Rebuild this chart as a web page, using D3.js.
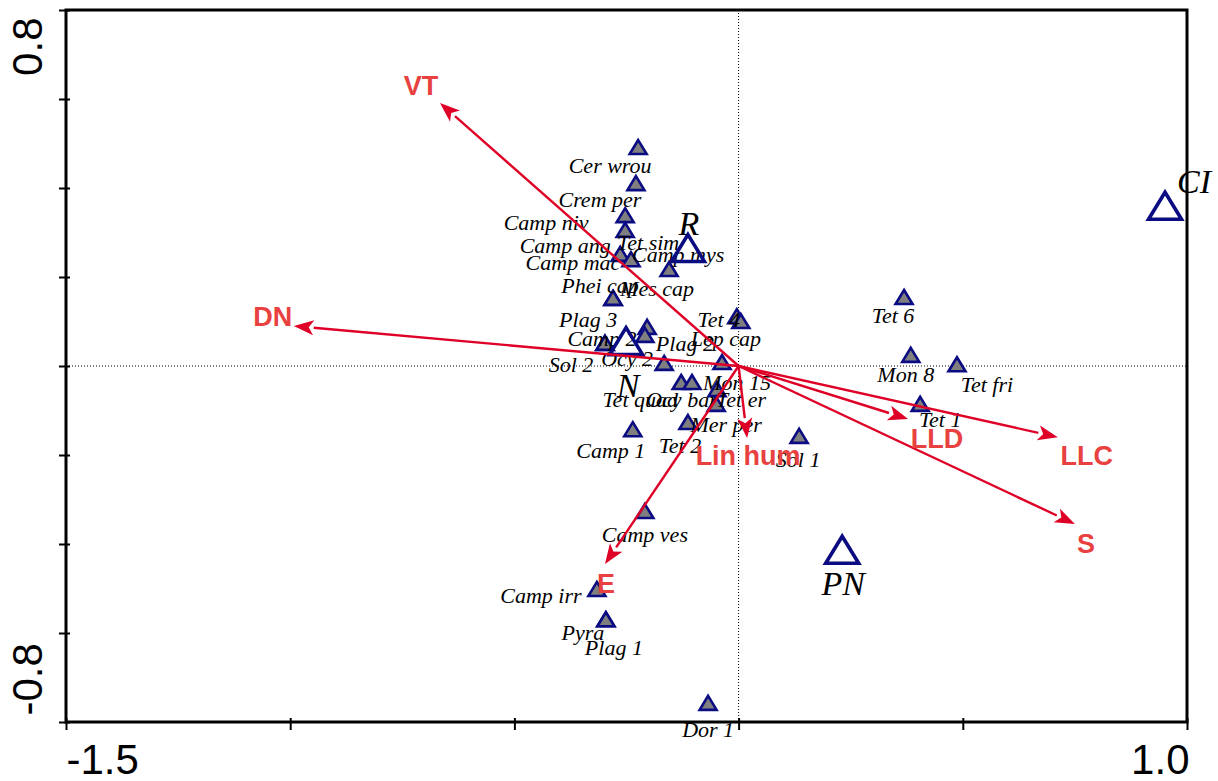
<!DOCTYPE html>
<html>
<head>
<meta charset="utf-8">
<script src="https://cdn.jsdelivr.net/npm/d3@7"></script>
<style>
  html, body { margin: 0; padding: 0; background: #fff; }
  svg { display: block; }
</style>
</head>
<body>
<svg id="chart" width="1218" height="781"></svg>
<script>
// Ordination biplot: species scores, class centroids and environmental vectors

// species scores (axis 1, axis 2)
const speciesNames = ["Cer wrou","Crem per","Camp niv","Tet sim","Camp ang","Camp mac","Camp mys",
  "Phei cap","Mes cap","Plag 3","Plag 2","Camp 2","Sol 2","Ocy 2","Mon 15","Tet 4","Lep cap",
  "Tet quad","Ocy bar","Tet er","Mer per","Tet 2","Camp 1","Sol 1","Tet 6","Mon 8","Tet fri",
  "Tet 1","Camp ves","Camp irr","Pyra","Plag 1","Dor 1"];
const speciesAx1 = [-0.224,-0.229,-0.253,-0.253,-0.264,-0.240,-0.155,
  -0.280,-0.280,-0.204,-0.209,-0.298,-0.298,-0.166,-0.037,-0.004,0.005,
  -0.128,-0.104,-0.048,-0.050,-0.113,-0.236,0.135,0.369,0.384,0.487,
  0.405,-0.209,-0.316,-0.296,-0.296,-0.068];
const speciesAx2 = [0.492,0.411,0.339,0.306,0.252,0.240,0.218,
  0.153,0.153,0.088,0.070,0.052,0.052,0.007,0.009,0.112,0.101,
  -0.036,-0.036,-0.052,-0.085,-0.126,-0.142,-0.157,0.155,0.025,0.004,
  -0.085,-0.326,-0.501,-0.569,-0.569,-0.757];

// nominal class centroids
const classNames = ["R","N","PN","CI"];
const classAx1 = [-0.113,-0.251,0.231,0.951];
const classAx2 = [0.265,0.056,-0.413,0.360];

// quantitative environmental variables (arrow tips)
const envNames = ["VT","DN","E","Lin hum","LLD","LLC","S"];
const envAx1 = [-0.666,-0.992,-0.298,0.019,0.378,0.712,0.750];
const envAx2 = [0.591,0.090,-0.445,-0.162,-0.119,-0.160,-0.355];

// axis ticks
const xTicks = [-1.5,-1.0,-0.5,0.0,0.5,1.0];
const yTicks = [-0.8,-0.6,-0.4,-0.2,0.0,0.2,0.4,0.6,0.8];
const xTickLabels = {"-1.5":"-1.5","1":"1.0"};
const yTickLabels = {"-0.8":"-0.8","0.8":"0.8"};

// label placement (pixel offsets from the symbol: dx to text centre, dy to baseline)
const speciesLabelShift = {
  "Cer wrou":[-28,26],"Crem per":[-36,24],"Camp niv":[-79,15],"Tet sim":[23,20],
  "Camp ang":[-55,-1],"Camp mac":[-58,11],"Camp mys":[9,-7],"Phei cap":[-13,-5],
  "Mes cap":[44,-2],"Plag 3":[-59,0],"Plag 2":[40,16],"Camp 2":[-3,3],"Sol 2":[-34,29],
  "Ocy 2":[-37,3],"Mon 15":[15,28],"Tet 4":[-18,11],"Lep cap":[-15,25],
  "Tet quad":[-41,25],"Ocy bar":[-10,25],"Tet er":[24,18],"Mer per":[10,28],
  "Tet 2":[-8,31],"Camp 1":[-22,29],"Sol 1":[-1,31],"Tet 6":[-11,26],"Mon 8":[-5,27],
  "Tet fri":[30,28],"Tet 1":[20,23],"Camp ves":[0,31],"Camp irr":[-56,14],
  "Pyra":[-23,21],"Plag 1":[8,36],"Dor 1":[0,34]
};
const classLabelShift = {"R":[1,-13],"N":[2,56],"PN":[1,45],"CI":[29,-13]};
const envLabelShift = {"VT":[-19,-8],"DN":[-21,0],"E":[1,29],"Lin hum":[1,27],
  "LLD":[29,29],"LLC":[29,28],"S":[11,29]};

const svg = d3.select("#chart");
const plot = {left: 66, right: 1187, top: 10, bottom: 722};

const x = d3.scaleLinear().domain([-1.5, 1.0]).range([plot.left, plot.right]);
const y = d3.scaleLinear().domain([-0.8, 0.8]).range([plot.bottom, plot.top]);

const navy = "#0b0b82";
const arrowRed = "#df0027";
const labelRed = "#e8413f";

// zero reference lines
svg.append("line")
  .attr("x1", x(0)).attr("x2", x(0)).attr("y1", y(0.8)).attr("y2", y(-0.8))
  .attr("stroke", "#000").attr("stroke-width", 1).attr("stroke-dasharray", "1,2");
svg.append("line")
  .attr("x1", x(-1.5)).attr("x2", x(1.0)).attr("y1", y(0)).attr("y2", y(0))
  .attr("stroke", "#000").attr("stroke-width", 1).attr("stroke-dasharray", "1,2");

// frame
svg.append("rect")
  .attr("x", plot.left).attr("y", plot.top)
  .attr("width", plot.right - plot.left).attr("height", plot.bottom - plot.top)
  .attr("fill", "none").attr("stroke", "#000").attr("stroke-width", 3);

// bottom axis
const gx = svg.append("g")
  .attr("transform", `translate(0,${plot.bottom})`)
  .call(d3.axisBottom(x).tickValues(xTicks).tickSize(8).tickPadding(20)
    .tickFormat(d => xTickLabels[String(d)] || ""));
gx.select(".domain").remove();
gx.selectAll(".tick line").attr("y1", -4).attr("stroke-width", 2);
gx.selectAll(".tick text")
  .attr("font-family", "'Liberation Sans', Arial, sans-serif")
  .attr("font-size", 42).attr("fill", "#000")
  .attr("dy", null).attr("y", 52)
  .attr("text-anchor", d => d < 0 ? "start" : "end")
  .attr("dx", d => d < 0 ? 0 : 2);

// left axis
const gy = svg.append("g")
  .attr("transform", `translate(${plot.left},0)`)
  .call(d3.axisLeft(y).tickValues(yTicks).tickSize(7)
    .tickFormat(d => yTickLabels[String(d)] || ""));
gy.select(".domain").remove();
gy.selectAll(".tick line").attr("x1", 4).attr("stroke-width", 2);
gy.selectAll(".tick text")
  .attr("font-family", "'Liberation Sans', Arial, sans-serif")
  .attr("font-size", 42).attr("fill", "#000")
  .attr("dy", null)
  .attr("transform", "translate(-24,0) rotate(-90)")
  .attr("text-anchor", d => d > 0 ? "end" : "start")
  .attr("x", d => d > 0 ? -7 : 7)
  .attr("y", 0);

// triangle symbol centred on its bounding box
const tri = (w, h) => `M0,${-h / 2}L${w / 2},${h / 2}L${-w / 2},${h / 2}Z`;

// species symbols
const species = speciesNames.map((n, i) => ({name: n, a1: speciesAx1[i], a2: speciesAx2[i]}));
svg.append("g").selectAll("path").data(species).join("path")
  .attr("d", tri(17, 14))
  .attr("transform", d => `translate(${x(d.a1)},${y(d.a2)})`)
  .attr("fill", "#7f7f7f").attr("stroke", navy).attr("stroke-width", 2.6)
  .attr("stroke-linejoin", "miter");

svg.append("g").selectAll("text").data(species).join("text")
  .attr("x", d => x(d.a1) + speciesLabelShift[d.name][0])
  .attr("y", d => y(d.a2) + speciesLabelShift[d.name][1])
  .attr("text-anchor", "middle")
  .attr("font-family", "'Liberation Serif', 'Times New Roman', serif")
  .attr("font-style", "italic").attr("font-size", 22).attr("fill", "#000")
  .text(d => d.name);

// class centroids
const classes = classNames.map((n, i) => ({name: n, a1: classAx1[i], a2: classAx2[i]}));
svg.append("g").selectAll("path").data(classes).join("path")
  .attr("d", tri(33, 27))
  .attr("transform", d => `translate(${x(d.a1)},${y(d.a2)})`)
  .attr("fill", "none").attr("stroke", navy).attr("stroke-width", 3.6);

svg.append("g").selectAll("text").data(classes).join("text")
  .attr("x", d => x(d.a1) + classLabelShift[d.name][0])
  .attr("y", d => y(d.a2) + classLabelShift[d.name][1])
  .attr("text-anchor", "middle")
  .attr("font-family", "'Liberation Serif', 'Times New Roman', serif")
  .attr("font-style", "italic").attr("font-size", 34).attr("fill", "#000")
  .text(d => d.name);

// environmental arrows
const env = envNames.map((n, i) => ({name: n, a1: envAx1[i], a2: envAx2[i]}));
const headLen = 20, headHalf = 7.5;
const arrows = svg.append("g");
env.forEach(d => {
  const x0 = x(0), y0 = y(0), x1 = x(d.a1), y1 = y(d.a2);
  const ang = Math.atan2(y1 - y0, x1 - x0);
  const bx = x1 - headLen * Math.cos(ang), by = y1 - headLen * Math.sin(ang);
  arrows.append("line")
    .attr("x1", x0).attr("y1", y0).attr("x2", bx).attr("y2", by)
    .attr("stroke", arrowRed).attr("stroke-width", 2.4);
  const px = -Math.sin(ang) * headHalf, py = Math.cos(ang) * headHalf;
  arrows.append("path")
    .attr("d", `M${x1},${y1}L${bx + px},${by + py}L${bx + 0.25 * headLen * Math.cos(ang)},${by + 0.25 * headLen * Math.sin(ang)}L${bx - px},${by - py}Z`)
    .attr("fill", arrowRed);
});

svg.append("g").selectAll("text").data(env).join("text")
  .attr("x", d => x(d.a1) + envLabelShift[d.name][0])
  .attr("y", d => y(d.a2) + envLabelShift[d.name][1])
  .attr("text-anchor", "middle")
  .attr("font-family", "'Liberation Sans', Arial, sans-serif")
  .attr("font-weight", "bold").attr("font-size", 27).attr("fill", labelRed)
  .text(d => d.name);
</script>
</body>
</html>
